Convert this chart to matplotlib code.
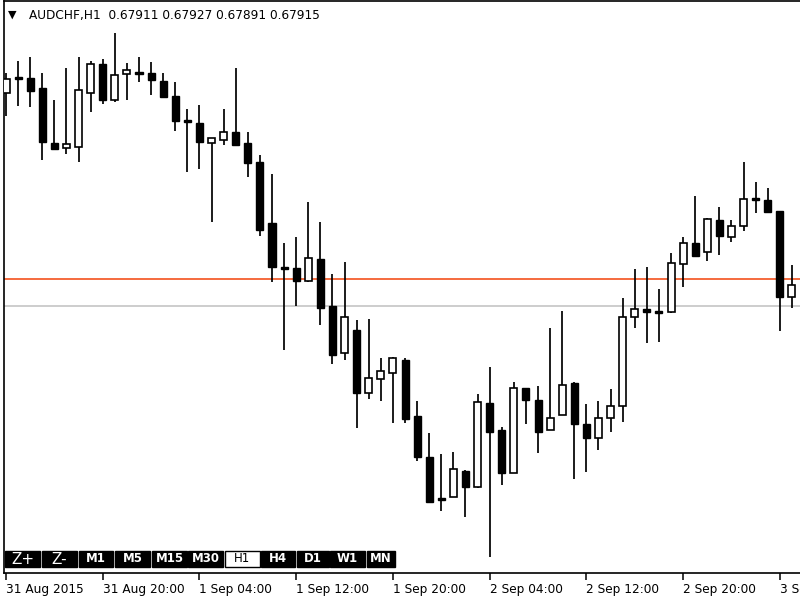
import matplotlib
matplotlib.use("Agg")
import matplotlib.pyplot as plt
from matplotlib.patches import Rectangle
import numpy as np

# AUDCHF H1 candles (bar 0 = 31 Aug 2015 12:00)
opens = [0.68299, 0.68329, 0.68329, 0.68309, 0.68199, 0.68189, 0.68191, 0.68299, 0.68357, 0.68285,
         0.68337, 0.68341, 0.68339, 0.68323, 0.68293, 0.68243, 0.68239, 0.68199, 0.68205, 0.68221,
         0.68199, 0.68161, 0.68039, 0.67949, 0.67949, 0.67923, 0.67967, 0.67873, 0.67779, 0.67825,
         0.67699, 0.67727, 0.67739, 0.67765, 0.67653, 0.67571, 0.67487, 0.67491, 0.67543, 0.67511,
         0.67679, 0.67625, 0.67539, 0.67709, 0.67685, 0.67625, 0.67655, 0.67719, 0.67637, 0.67609,
         0.67649, 0.67673, 0.67851, 0.67867, 0.67863, 0.67861, 0.67957, 0.67999, 0.67981, 0.68045,
         0.68011, 0.68033, 0.68089, 0.68085, 0.68063, 0.67891]
highs = [0.68339, 0.68363, 0.68371, 0.68339, 0.68285, 0.68349, 0.68371, 0.68363, 0.68367, 0.68419,
         0.68359, 0.68371, 0.68361, 0.68339, 0.68321, 0.68267, 0.68275, 0.68209, 0.68267, 0.68349,
         0.68221, 0.68175, 0.68137, 0.67999, 0.68011, 0.68081, 0.68041, 0.67937, 0.67961, 0.67845,
         0.67847, 0.67769, 0.67771, 0.67769, 0.67683, 0.67619, 0.67577, 0.67581, 0.67545, 0.67697,
         0.67751, 0.67631, 0.67721, 0.67709, 0.67713, 0.67829, 0.67863, 0.67721, 0.67677, 0.67683,
         0.67707, 0.67889, 0.67947, 0.67951, 0.67907, 0.67979, 0.68011, 0.68093, 0.68049, 0.68071,
         0.68045, 0.68161, 0.68121, 0.68109, 0.68063, 0.67955]
lows = [0.68253, 0.68273, 0.68271, 0.68165, 0.68185, 0.68177, 0.68161, 0.68261, 0.68277, 0.68281,
        0.68285, 0.68321, 0.68295, 0.68289, 0.68223, 0.68141, 0.68147, 0.68041, 0.68195, 0.68195,
        0.68131, 0.68013, 0.67921, 0.67785, 0.67873, 0.67921, 0.67835, 0.67757, 0.67765, 0.67629,
        0.67687, 0.67683, 0.67639, 0.67639, 0.67563, 0.67481, 0.67463, 0.67491, 0.67451, 0.67509,
        0.67371, 0.67515, 0.67539, 0.67637, 0.67579, 0.67625, 0.67655, 0.67527, 0.67541, 0.67585,
        0.67621, 0.67641, 0.67829, 0.67799, 0.67801, 0.67859, 0.67911, 0.67971, 0.67963, 0.67975,
        0.68001, 0.68023, 0.68059, 0.68059, 0.67823, 0.67869]
closes = [0.68327, 0.68329, 0.68303, 0.68201, 0.68187, 0.68197, 0.68305, 0.68357, 0.68285, 0.68335,
          0.68345, 0.68337, 0.68325, 0.68291, 0.68243, 0.68243, 0.68201, 0.68209, 0.68221, 0.68195,
          0.68159, 0.68025, 0.67951, 0.67949, 0.67923, 0.67969, 0.67869, 0.67775, 0.67851, 0.67699,
          0.67729, 0.67743, 0.67769, 0.67647, 0.67571, 0.67481, 0.67487, 0.67547, 0.67511, 0.67681,
          0.67621, 0.67539, 0.67709, 0.67685, 0.67621, 0.67649, 0.67715, 0.67637, 0.67609, 0.67649,
          0.67673, 0.67851, 0.67867, 0.67861, 0.67859, 0.67959, 0.67999, 0.67973, 0.68047, 0.68013,
          0.68033, 0.68087, 0.68087, 0.68061, 0.67891, 0.67915]

tick_bars = [0, 8, 16, 24, 32, 40, 48, 56, 64]
tick_labels = ["31 Aug 2015", "31 Aug 20:00", "1 Sep 04:00", "1 Sep 12:00", "1 Sep 20:00",
               "2 Sep 04:00", "2 Sep 12:00", "2 Sep 20:00", "3 Sep 04:00"]
orange_level = 0.67927
grey_level = 0.67873
title_text = "AUDCHF,H1  0.67911 0.67927 0.67891 0.67915"
buttons = ["Z+", "Z-", "M1", "M5", "M15", "M30", "H1", "H4", "D1", "W1", "MN"]
active_button = "H1"

W, H = 800, 600
fig = plt.figure(figsize=(8, 6), dpi=100)
fig.patch.set_facecolor("white")

# axes: left x=4px, top y=1px, bottom y=573px, extends past right edge
ax_left, ax_top, ax_bottom, ax_right = 4, 1, 573, 812
ax = fig.add_axes([ax_left / W, 1 - ax_bottom / H, (ax_right - ax_left) / W, (ax_bottom - ax_top) / H])
ax.set_facecolor("white")

n = len(opens)
x = np.arange(n)
o = np.array(opens); h = np.array(highs); l = np.array(lows); c = np.array(closes)

ax.set_xlim(-0.165, 66.66)
ax.set_ylim(0.67339, 0.68483)

ax.axhline(grey_level, color="#c0c0c0", lw=1.1, zorder=1)
ax.axhline(orange_level, color="#f4511e", lw=1.2, zorder=1)

ax.vlines(x, l, h, color="black", lw=1.25, zorder=2)
bw = 0.58
min_h = 0.00003
for i in range(n):
    bottom = min(o[i], c[i])
    height = abs(c[i] - o[i])
    if c[i] > o[i]:
        ax.add_patch(Rectangle((x[i] - bw / 2, bottom), bw, height, facecolor="white",
                               edgecolor="black", lw=1.2, zorder=3))
    else:
        if height < min_h:
            bottom = bottom - min_h / 2
            height = min_h
        ax.add_patch(Rectangle((x[i] - bw / 2, bottom), bw, height, facecolor="black",
                               edgecolor="black", lw=1.0, zorder=3))

ax.spines["right"].set_visible(False)
for s in ["left", "top", "bottom"]:
    ax.spines[s].set_color("black")
    ax.spines[s].set_linewidth(1.2)

ax.set_yticks([])
ax.set_xticks(tick_bars)
ax.set_xticklabels(tick_labels, fontsize=8.7, family="DejaVu Sans")
ax.tick_params(axis="x", direction="out", length=5, width=1.1, pad=2, colors="black")
for lab in ax.get_xticklabels():
    lab.set_horizontalalignment("left")

# title
fig.text(8 / W, 1 - 15 / H, "\u25bc", fontsize=8, va="center", ha="left", color="black")
fig.text(29 / W, 1 - 15 / H, title_text, fontsize=8.7, va="center", ha="left", color="black")

# timeframe buttons
bx = [5, 42, 79, 115, 152, 188, 225, 261, 297, 330, 367]
bwid = [35, 35, 34, 35, 35, 35, 35, 34, 32, 35, 28]
by0, by1 = 551, 567
for lab, x0, wd in zip(buttons, bx, bwid):
    active = lab == active_button
    rect = Rectangle((x0 / W, 1 - by1 / H), wd / W, (by1 - by0) / H, transform=fig.transFigure,
                     facecolor="white" if active else "black", edgecolor="black", lw=1.0)
    fig.add_artist(rect)
    fs = 11 if lab.startswith("Z") else 8.5
    fw = "normal" if (active or lab.startswith("Z")) else "bold"
    fig.text((x0 + wd / 2) / W, 1 - (by0 + by1) / 2 / H, lab, fontsize=fs, fontweight=fw,
             color="black" if active else "white", ha="center", va="center")

fig.savefig("out.png", dpi=100)
